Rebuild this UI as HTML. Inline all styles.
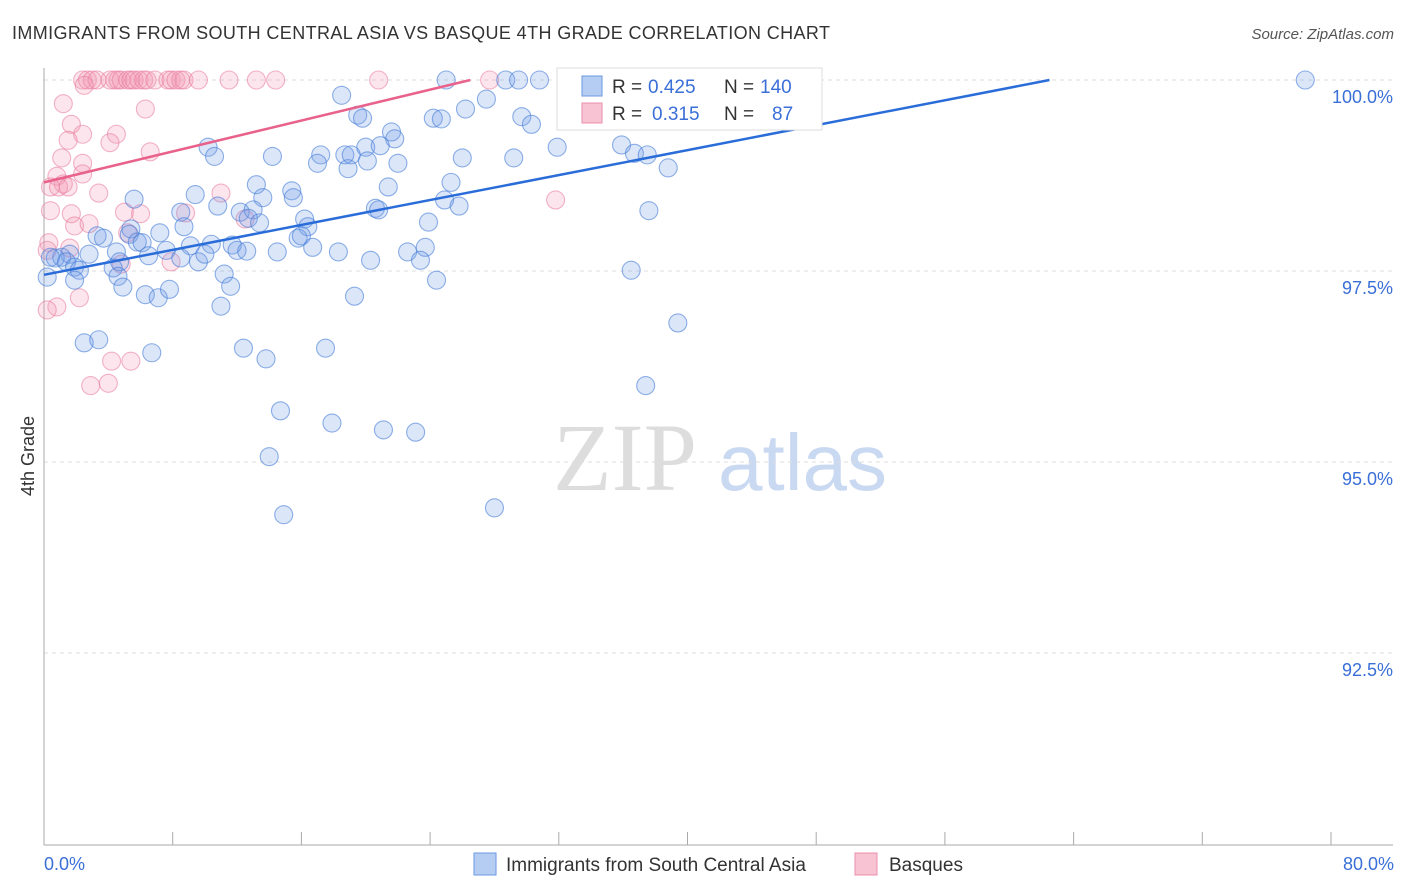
<!DOCTYPE html>
<html><head><meta charset="utf-8"><style>
body{margin:0;background:#fff;font-family:"Liberation Sans",sans-serif}
</style></head><body>
<svg width="1406" height="892" xmlns="http://www.w3.org/2000/svg" style="display:block" font-family="Liberation Sans, sans-serif">
<text x="12" y="39" font-size="18" fill="#333" textLength="818">IMMIGRANTS FROM SOUTH CENTRAL ASIA VS BASQUE 4TH GRADE CORRELATION CHART</text>
<text x="1394" y="39" font-size="15" fill="#555" font-style="italic" text-anchor="end">Source: ZipAtlas.com</text>
<g>
<text x="553" y="490" font-size="96" fill="#ddd" font-family="Liberation Serif, serif">ZIP</text>
<text x="718" y="490" font-size="80" fill="#c9d9f2">atlas</text>
</g>
<g id="grid"></g>
<g id="axes"></g>
<g id="pts"></g>
<g id="lines"></g>
<text transform="translate(34,456) rotate(-90)" font-size="18" fill="#333" text-anchor="middle">4th Grade</text>
<text x="44" y="870" font-size="18" fill="#3a6fd8">0.0%</text>
<text x="1394" y="870" font-size="18" fill="#3a6fd8" text-anchor="end">80.0%</text>
<g>
<rect x="557" y="68" width="265" height="62" fill="#fff" stroke="#ddd"/>
<rect x="582" y="76" width="20" height="20" fill="#b5cdf3" stroke="#6a9ae0"/>
<rect x="582" y="103" width="20" height="20" fill="#f8c3d3" stroke="#ea8fac"/>
<text x="612" y="93" font-size="19" fill="#333">R = <tspan x="648" fill="#3a6fd8">0.425</tspan></text>
<text x="724" y="93" font-size="19" fill="#333">N = <tspan x="760" fill="#3a6fd8">140</tspan></text>
<text x="612" y="120" font-size="19" fill="#333">R = <tspan x="652" fill="#3a6fd8">0.315</tspan></text>
<text x="724" y="120" font-size="19" fill="#333">N = <tspan x="772" fill="#3a6fd8">87</tspan></text>
</g>
<g><rect x="474" y="853" width="22" height="22" fill="#b5cdf3" stroke="#6a9ae0"/><text x="506" y="871" font-size="19" fill="#333">Immigrants from South Central Asia</text></g>
<g><rect x="855" y="853" width="22" height="22" fill="#f8c3d3" stroke="#ea8fac"/><text x="889" y="871" font-size="19" fill="#333">Basques</text></g>
</svg>
<script>
const yTicks=[100,97.5,95,92.5];
const yTickLabels=["100.0%","97.5%","95.0%","92.5%"];
const xTicks=[0,8,16,24,32,40,48,56,64,72,80];
const blueX=[78.4,25.0,28.7,29.5,30.8,32.9,41.6,18.5,27.5,26.2,19.5,19.8,24.2,24.7,29.7,30.3,33.4,21.6,21.8,10.2,10.6,14.2,17.2,17.0,18.7,19.1,20.0,20.1,20.9,22.0,18.9,26.0,29.2,31.9,35.9,36.7,37.5,38.8,25.3,21.4,13.2,15.4,15.5,9.4,5.6,10.8,13.6,24.9,25.8,20.6,20.8,12.2,13.0,8.5,12.7,13.4,16.2,16.4,23.9,37.6,8.7,5.4,7.2,3.3,3.7,5.3,5.8,6.1,7.6,9.1,10.4,11.7,12.0,12.6,14.5,15.8,16.0,16.7,18.3,20.3,22.6,23.7,23.4,24.4,36.5,1.6,0.7,1.1,0.4,1.4,1.9,2.2,2.8,4.5,4.7,4.3,6.5,9.6,10.0,8.5,0.2,1.9,4.6,4.9,6.3,7.1,7.8,11.2,11.6,11.0,19.3,2.5,3.4,6.7,12.4,13.8,17.5,39.4,37.4,14.7,17.9,21.1,23.1,14.0,14.9,28.0];
const blueY=[100,100,100,100,100,100,100,99.8,99.75,99.62,99.54,99.5,99.5,99.49,99.52,99.42,99.49,99.32,99.23,99.12,99.0,99.0,99.02,98.91,99.02,99.02,99.12,98.94,99.14,98.91,98.84,98.98,98.98,99.12,99.15,99.04,99.02,98.85,98.66,98.6,98.63,98.55,98.46,98.5,98.44,98.35,98.46,98.43,98.35,98.32,98.3,98.27,98.3,98.27,98.19,98.13,98.18,98.08,98.14,98.29,98.08,98.05,98.0,97.96,97.93,97.98,97.88,97.87,97.77,97.83,97.85,97.84,97.77,97.76,97.75,97.93,97.96,97.81,97.75,97.64,97.75,97.81,97.64,97.38,97.51,97.72,97.67,97.68,97.68,97.62,97.55,97.51,97.72,97.75,97.62,97.54,97.7,97.62,97.72,97.67,97.42,97.38,97.43,97.29,97.19,97.15,97.26,97.46,97.3,97.04,97.17,96.56,96.6,96.43,96.49,96.35,96.49,96.82,96.0,95.67,95.51,95.42,95.39,95.07,94.31,94.4];
const pinkX=[2.4,2.7,3.0,3.3,4.1,4.4,4.6,4.8,5.2,5.4,5.6,5.9,6.2,6.4,6.9,7.7,7.9,8.2,8.5,8.7,9.6,11.5,13.2,14.4,20.8,27.7,2.5,1.2,6.3,1.7,4.5,2.4,1.5,4.1,6.6,1.1,2.4,2.4,1.2,0.8,0.4,0.9,1.5,3.4,11.0,31.8,0.4,1.7,5.0,6.0,8.8,1.9,2.8,12.5,5.2,0.3,1.6,7.9,4.8,0.2,2.2,0.8,0.2,4.2,5.4,2.9,4.0];
const pinkY=[100,100,100,100,100,100,100,100,100,100,100,100,100,100,100,100,100,100,100,100,100,100,100,100,100,100,99.93,99.69,99.62,99.42,99.29,99.29,99.21,99.18,99.06,98.98,98.91,98.77,98.64,98.74,98.6,98.6,98.6,98.52,98.52,98.43,98.29,98.25,98.27,98.25,98.26,98.09,98.12,98.18,98.0,97.87,97.8,97.62,97.59,97.77,97.15,97.03,96.99,96.32,96.32,96.0,96.03];
const blueTrend=[[0,97.45],[62.5,100]];
const pinkTrend=[[0,98.66],[26.5,100]];
const NS="http://www.w3.org/2000/svg";
const X=v=>44+v*16.0875, Y=v=>80+(100-v)*76.4;
function mk(t,a,p){const e=document.createElementNS(NS,t);for(const k in a)e.setAttribute(k,a[k]);p.appendChild(e);return e;}
const grid=document.getElementById('grid'),axes=document.getElementById('axes'),pts=document.getElementById('pts'),lines=document.getElementById('lines');
yTicks.forEach((t,i)=>{
 const l=mk('line',{x1:44,x2:1393,y1:Y(t),y2:Y(t),stroke:'#ddd','stroke-dasharray':'4,4'},grid);
 
 
 const tx=mk('text',{x:1393,y:Y(t)+23,'font-size':18,fill:'#3a6fd8','text-anchor':'end'},grid);
 tx.textContent=yTickLabels[i];
 
 
});
const ya=mk('line',{x1:44,x2:44,y1:68,y2:845,stroke:'#aaa'},axes);


const xa=mk('line',{x1:44,x2:1393,y1:845,y2:845,stroke:'#aaa'},axes);


xTicks.forEach(t=>{
 const k=mk('line',{x1:X(t),x2:X(t),y1:832,y2:845,stroke:'#aaa'},axes);
 
 
});
pinkX.forEach((v,i)=>{
 const c=mk('circle',{cx:X(v),cy:Y(pinkY[i]),r:9,fill:'rgba(243,150,180,0.25)',stroke:'rgba(232,120,155,0.55)','stroke-width':1.1},pts);
 
 
});
blueX.forEach((v,i)=>{
 const c=mk('circle',{cx:X(v),cy:Y(blueY[i]),r:9,fill:'rgba(110,155,230,0.25)',stroke:'rgba(70,125,215,0.6)','stroke-width':1.1},pts);
 
 
});
const bl=mk('line',{x1:X(blueTrend[0][0]),y1:Y(blueTrend[0][1]),x2:X(blueTrend[1][0]),y2:Y(blueTrend[1][1]),stroke:'#2a6dd9','stroke-width':2.5},lines);


const pl=mk('line',{x1:X(pinkTrend[0][0]),y1:Y(pinkTrend[0][1]),x2:X(pinkTrend[1][0]),y2:Y(pinkTrend[1][1]),stroke:'#e8628c','stroke-width':2.5},lines);


</script>
</body></html>
